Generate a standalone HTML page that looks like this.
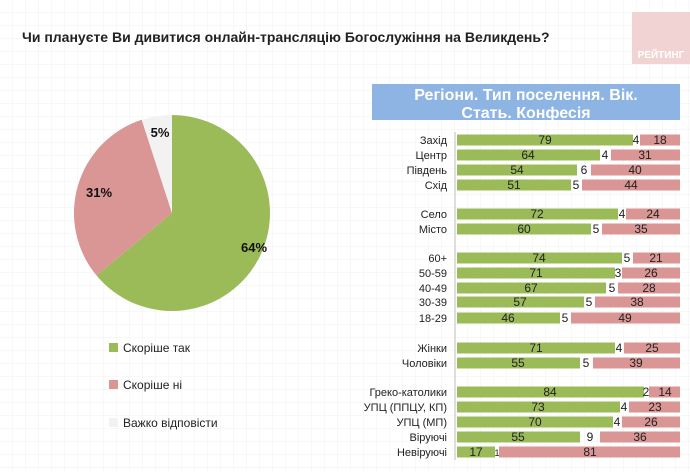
<!DOCTYPE html>
<html><head><meta charset="utf-8"><style>
body{margin:0;width:690px;height:471px;overflow:hidden;background:#fff;font-family:"Liberation Sans",sans-serif}
</style></head><body>
<svg width="690" height="471" xmlns="http://www.w3.org/2000/svg" font-family="Liberation Sans, sans-serif">
<defs><pattern id="g" width="13" height="13" patternUnits="userSpaceOnUse"><path d="M13 0V13H0" fill="none" stroke="#f1f1f1" stroke-width="1"/></pattern></defs>
<rect width="690" height="471" fill="url(#g)"/>
<rect x="632" y="12" width="58" height="52" fill="#f2d3d3"/>
<text x="661" y="58" font-size="10" font-weight="bold" fill="#fff" text-anchor="middle">РЕЙТИНГ</text>
<text x="22" y="42" font-size="14" font-weight="bold" fill="#222">Чи плануєте Ви дивитися онлайн-трансляцію Богослужіння на Великдень?</text>
<path d="M172 213 L172 115 A98 98 0 1 1 96.5 275.5 Z" fill="#9bbb59"/>
<path d="M172 213 L96.5 275.5 A98 98 0 0 1 141.7 119.8 Z" fill="#d99694"/>
<path d="M172 213 L141.7 119.8 A98 98 0 0 1 172 115 Z" fill="#f2f2f2"/>
<g font-size="13" font-weight="bold" fill="#111" text-anchor="middle">
<text x="160" y="137">5%</text><text x="99" y="197">31%</text><text x="254" y="252">64%</text></g>
<rect x="109" y="343" width="9" height="9" fill="#9bbb59"/><text x="123" y="352" font-size="12" fill="#222">Скоріше  так</text>
<rect x="109" y="380" width="9" height="9" fill="#d99694"/><text x="123" y="389" font-size="12" fill="#222">Скоріше  ні</text>
<rect x="109" y="418" width="9" height="9" fill="#f2f2f2"/><text x="123" y="427" font-size="12" fill="#222">Важко відповісти</text>
<rect x="372" y="84" width="308" height="36" fill="#8eb4e3"/>
<text x="526" y="100" font-size="16" font-weight="bold" fill="#fff" text-anchor="middle">Регіони. Тип поселення. Вік.</text>
<text x="526" y="118" font-size="16" font-weight="bold" fill="#fff" text-anchor="middle">Стать. Конфесія</text>
<line x1="455" y1="132" x2="455" y2="460" stroke="#bbb"/>
<g font-size="11" fill="#222" text-anchor="end">
<text x="447" y="144">Захід</text><text x="447" y="159">Центр</text><text x="447" y="174">Південь</text><text x="447" y="189">Схід</text>
<text x="447" y="218">Село</text><text x="447" y="233">Місто</text>
<text x="447" y="262">60+</text><text x="447" y="277">50-59</text><text x="447" y="292">40-49</text><text x="447" y="306">30-39</text><text x="447" y="322">18-29</text>
<text x="447" y="352">Жінки</text><text x="447" y="367">Чоловіки</text>
<text x="447" y="396">Греко-католики</text><text x="447" y="411">УПЦ (ППЦУ, КП)</text><text x="447" y="426">УПЦ (МП)</text><text x="447" y="441">Віруючі</text><text x="447" y="456">Невіруючі</text>
</g>
<g font-size="12" fill="#222" text-anchor="middle">
<rect x="457" y="134.5" width="176" height="11" fill="#9bbb59"/><rect x="640" y="134.5" width="40" height="11" fill="#d99694"/><text x="545" y="144">79</text><text x="636" y="144">4</text><text x="660" y="144">18</text>
<rect x="457" y="149.5" width="143" height="11" fill="#9bbb59"/><rect x="611" y="149.5" width="69" height="11" fill="#d99694"/><text x="528" y="159">64</text><text x="605" y="159">4</text><text x="645" y="159">31</text>
<rect x="457" y="164.5" width="120" height="11" fill="#9bbb59"/><rect x="591" y="164.5" width="89" height="11" fill="#d99694"/><text x="517" y="174">54</text><text x="584" y="174">6</text><text x="635" y="174">40</text>
<rect x="457" y="179.5" width="114" height="11" fill="#9bbb59"/><rect x="582" y="179.5" width="98" height="11" fill="#d99694"/><text x="514" y="189">51</text><text x="576" y="189">5</text><text x="631" y="189">44</text>
<rect x="457" y="208.5" width="161" height="11" fill="#9bbb59"/><rect x="626" y="208.5" width="54" height="11" fill="#d99694"/><text x="537" y="218">72</text><text x="622" y="218">4</text><text x="653" y="218">24</text>
<rect x="457" y="223.5" width="134" height="11" fill="#9bbb59"/><rect x="602" y="223.5" width="78" height="11" fill="#d99694"/><text x="524" y="233">60</text><text x="596" y="233">5</text><text x="641" y="233">35</text>
<rect x="457" y="252.5" width="165" height="11" fill="#9bbb59"/><rect x="633" y="252.5" width="47" height="11" fill="#d99694"/><text x="539" y="262">74</text><text x="627" y="262">5</text><text x="656" y="262">21</text>
<rect x="457" y="267.5" width="158" height="11" fill="#9bbb59"/><rect x="622" y="267.5" width="58" height="11" fill="#d99694"/><text x="536" y="277">71</text><text x="618" y="277">3</text><text x="651" y="277">26</text>
<rect x="457" y="282.5" width="149" height="11" fill="#9bbb59"/><rect x="618" y="282.5" width="62" height="11" fill="#d99694"/><text x="531" y="292">67</text><text x="612" y="292">5</text><text x="649" y="292">28</text>
<rect x="457" y="296.5" width="127" height="11" fill="#9bbb59"/><rect x="595" y="296.5" width="85" height="11" fill="#d99694"/><text x="520" y="306">57</text><text x="589" y="306">5</text><text x="637" y="306">38</text>
<rect x="457" y="312.5" width="103" height="11" fill="#9bbb59"/><rect x="571" y="312.5" width="109" height="11" fill="#d99694"/><text x="508" y="322">46</text><text x="565" y="322">5</text><text x="625" y="322">49</text>
<rect x="457" y="342.5" width="158" height="11" fill="#9bbb59"/><rect x="624" y="342.5" width="56" height="11" fill="#d99694"/><text x="536" y="352">71</text><text x="619" y="352">4</text><text x="652" y="352">25</text>
<rect x="457" y="357.5" width="123" height="11" fill="#9bbb59"/><rect x="593" y="357.5" width="87" height="11" fill="#d99694"/><text x="518" y="367">55</text><text x="586" y="367">5</text><text x="636" y="367">39</text>
<rect x="457" y="386.5" width="187" height="11" fill="#9bbb59"/><rect x="649" y="386.5" width="31" height="11" fill="#d99694"/><text x="550" y="396">84</text><text x="646" y="396">2</text><text x="665" y="396">14</text>
<rect x="457" y="401.5" width="163" height="11" fill="#9bbb59"/><rect x="629" y="401.5" width="51" height="11" fill="#d99694"/><text x="538" y="411">73</text><text x="624" y="411">4</text><text x="655" y="411">23</text>
<rect x="457" y="416.5" width="156" height="11" fill="#9bbb59"/><rect x="622" y="416.5" width="58" height="11" fill="#d99694"/><text x="535" y="426">70</text><text x="617" y="426">4</text><text x="651" y="426">26</text>
<rect x="457" y="431.5" width="123" height="11" fill="#9bbb59"/><rect x="600" y="431.5" width="80" height="11" fill="#d99694"/><text x="518" y="441">55</text><text x="590" y="441">9</text><text x="640" y="441">36</text>
<rect x="457" y="446.5" width="38" height="11" fill="#9bbb59"/><rect x="499" y="446.5" width="181" height="11" fill="#d99694"/><text x="476" y="456">17</text><text x="497" y="456" font-size="9">1</text><text x="590" y="456">81</text>
</g>
</svg>
</body></html>
